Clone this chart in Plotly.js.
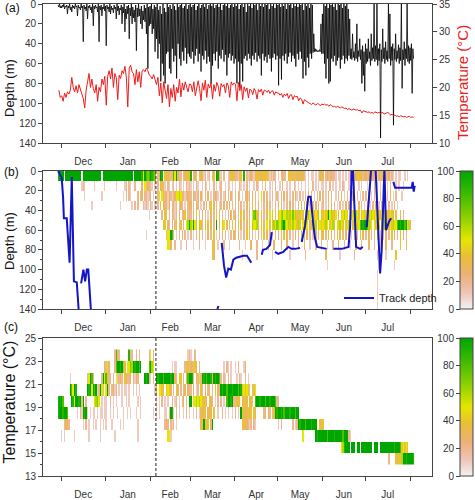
<!DOCTYPE html>
<html><head><meta charset="utf-8">
<script src="https://cdn.plot.ly/plotly-3.0.1.min.js"></script>
<style>html,body{margin:0;padding:0;background:#fff;}#chart{width:475px;height:500px;}</style>
</head><body><div id="chart"></div>
<script>
// ---------- calendar segments (Nov 29, 2012 .. Aug 3, 2013) ----------
const segStartDates = ['2012-11-29','2012-12-01','2013-01-01','2013-02-01','2013-03-01','2013-04-01','2013-05-01','2013-06-01','2013-07-01','2013-08-01'];
const segDays = [2,31,31,28,31,30,31,30,31,3];
const monthNames = ['Dec','Jan','Feb','Mar','Apr','May','Jun','Jul'];
const monthStarts = ['2012-12-01','2013-01-01','2013-02-01','2013-03-01','2013-04-01','2013-05-01','2013-06-01','2013-07-01','2013-08-01'];
const tagDate = '2013-02-05 02:00';

// ---------- (a) dive depth, two samples per day (m) ----------
const depthNov = [1,3,0,4];
const depthDec = [2,4,1,3,0,5,2,3,1,10,2,4,0,6,3,8,1,4,2,5,0,3,2,12,1,4,3,6,0,4,2,38,1,5,3,7,0,15,2,4,1,6,3,9,0,22,2,5,1,4,3,8,0,38,2,6,1,12,3,5,0,7];
const depthJan = [2,42,1,5,3,8,0,10,2,6,4,9,1,5,3,15,0,7,2,11,4,6,1,20,3,9,0,28,5,15,2,10,1,35,4,12,0,20,3,14,6,18,1,47,4,13,0,12,5,20,2,25,7,16,1,18,4,30,0,65,3,22];
const depthFeb = [2,20,0,30,5,25,1,48,3,35,0,55,6,40,2,78,10,60,0,72,4,80,8,50,0,48,3,65,1,70,5,45,0,58,2,52,6,75,0,40,3,55,1,62,0,48,4,57,2,44,0,60,5,50,1,53];
const depthMar = [0,55,3,48,1,60,0,52,6,45,2,58,0,50,4,68,1,52,0,56,3,47,0,60,5,53,1,58,0,80,2,62,0,50,4,57,1,48,0,65,3,52,0,55,6,46,1,58,0,51,2,72,0,54,4,50,1,57,0,52,3,60];
const depthApr = [0,55,2,80,0,58,5,84,1,60,0,78,3,55,0,52,8,57,0,50,2,55,0,62,4,52,0,56,1,49,0,58,6,52,0,55,2,72,0,50,3,57,0,53,1,59,0,51,5,55,0,68,2,54,0,50,4,56,0,52];
const depthMay = [1,82,0,55,3,76,0,52,2,57,0,50,5,60,0,53,1,49,0,58,4,52,0,55,2,63,0,50,3,56,0,48,1,55,0,75,6,58,0,72,2,54,0,64,4,50,0,55,1,49,30,48,45,48,46,48,47,48,46,48,20,50];
const depthJun = [10,50,0,60,2,75,0,55,4,80,0,78,1,55,0,58,3,52,0,62,6,57,0,54,1,65,0,56,4,52,0,60,2,55,0,57,5,52,15,55,45,56,30,54,48,57,40,55,20,58,47,53,35,56,46,80,42,72,48,88];
const depthJul = [40,60,45,58,35,55,48,62,30,57,44,55,0,58,42,56,0,62,45,57,40,135,46,58,25,55,44,60,38,56,47,58,0,55,10,62,43,57,40,122,45,56,30,58,47,55,41,60,44,57,0,85,46,56,38,62,45,55,0,58,42,60];
const depthAug = [44,57,40,90,45,55];

// ---------- (a) water temperature, daily (deg C) ----------
const tempNov = [19.5,18.2];
const tempDec = [18.5,17.5,19,18.2,19.2,18.8,19.5,21.8,20,19.2,20.3,19,20.5,19.5,19,18,16.3,19.5,21,22.5,20,21.5,19.8,19,20.5,17.5,20,19.2,21.5,20.5,22];
const tempJan = [16.8,22,23,21.5,23.5,20,22.5,21.8,17.8,22.2,21.6,23,22.5,23.8,21.9,16.5,23.5,24,22.8,22.5,20.5,23.2,21,22.8,20,23,23.2,22.8,23.5,23,22.2];
const tempFeb = [22,21.5,22.3,21.2,20.5,21.8,18.5,20.8,17.2,21,19.5,18,20.5,16.5,19.8,18.2,20.5,17.5,20,19,21.5,18.3,20.8,19.5,21,20,19.2,20.6];
const tempMar = [20.5,19.2,21,18.5,20.3,21.2,19.8,17.6,20.8,19.5,21.3,18.2,20.6,19.9,20.8,17.9,20.5,19.3,20.9,20.2,18.4,20.7,20.1,20.5,19,20.8,20.3,18.2,21,20.4,20.8];
const tempApr = [20.6,17.6,20.9,19.4,20.5,17.8,20.1,19.3,19.9,18.1,19.7,19.5,18.7,19.8,19.3,17.9,19.6,19.2,19.7,18.6,19.5,19.4,19.1,19.5,18.9,19.3,19.4,18.6,19.2,19.0];
const tempMay = [19.0,18.6,18.9,18.2,18.8,18.5,18.9,18.0,18.6,18.7,17.8,18.5,18.3,18.4,17.6,18.1,17.9,17.0,17.8,17.6,17.3,17.2,17.1,16.9,17.2,17.0,16.8,17.1,17.0,16.7,17.0];
const tempJun = [16.9,17.0,16.8,16.9,16.6,16.9,16.7,16.5,16.6,16.4,16.6,16.5,16.3,16.5,16.4,16.2,16.3,16.0,16.2,16.1,15.9,16.1,16.0,15.9,16.0,15.8,15.9,15.4,15.8,15.7];
const tempJul = [15.6,15.5,15.6,15.4,15.5,15.3,15.6,15.5,15.4,15.5,15.3,15.5,15.4,15.2,15.4,15.5,15.3,15.0,15.2,14.9,15.0,14.8,14.9,14.7,14.9,14.8,14.7,14.8,14.6,14.7,14.8];
const tempAug = [14.6,14.7,14.6];

// ---------- (b) % time at depth, daily; '.' = none, 1..9 = 10..90 %, A = 100 % ----------
const depthBins = [5,15,25,35,45,55,65,75,85,95,105,115,125,135];
const depthRows = [
 ['AA','AA.AAAAAAAAAAA.AAAAAAAAAAAAA.AA','AAAAAAAAAAAAAAAAAAA.AAAAA95A878','A987.23A9.44342285A322.23443','9.232.43412.12.24.A931.2..12434','22134.9.212321344334434212122.','1.2322.3443243434321.1.11.1.134','3.23223221.11.1.1.122323444323','32324323132423223121.1.11..1.1.','...'],
 ['..','..............121......1......1','.......1.....12.21..2....3.5232','21.1.2.3421.21.12.1.21.1.212','1.1.21..1.21.1..2.1.12..1.21.1.','1..21.1.2.1..1.21..1.2..1.1.2.','.1.2..1.1..21.1.1..1.1..2.1.1.1','1.1..2.1.1..1.21..1.1.2..1.1..','.1.1..2.1.1..1.1.2...1.1..1....','...'],
 ['','................1...........1..','............1.2.21....2.23.2212','2.1..25.54231321235565321232','2.3212.31.2.3.1.2321.2.13.2.31.','2.32.1.2312.3.2.1.5.3.2.1.2.12','1.2.3.2.1.2.31.2.1.2.3.2.1.2.3','2.1.3.2..1.2.3.1.2.1.3..2.1.2.','2.3.1.2.3.2.1..2.3.1.2...1.....',''],
 ['','......1..............1.........','..........1.......1.2.2...2121.','21.1.2.4.33213.2312.232.1.23','3.2.32.1.2.3.24.3.2.12.3.2.3.2.','2.3.2.1.3.2.4.2.3.1.2.3.2.1.2.','3.2.1.2.3.2.1.2.3.4.2.1.2.3.2.1','2.1.2.3.2.1.2.1.3.2.1.2..3.2.1','.2.1.2.3.1.2.1..2.1.2.1........',''],
 ['','','..............................1','........2.43.2.3212.3.234.22','2.3.4.2.3.2.1.3.2.4.3.2.1.2.3.2','3.2.4.3.2.3.57843.4.2.3.5.4.3.','456755646575644354.5465.34546.4','4546A56435.3.45654.3454654.454','45456545.43565434543.4..3.2....',''],
 ['','','','.........44.32.3.24.23.3.56A','65A53.642.3.4.3.2.A.3.45.3.2.4.','3.4.3.2.3.4.65563.4.3.5.4.3657','6578A65645655464.5645.34546.454','5465.4564.54654.4565.465458A9A','A8645.5465.456454546558A9AA8A54','3..'],
 ['','','............................1..','...........255A82.1.2.3.2.1.2.','2.1.2.3.2.1.3.2.4.1.2.3.2.1.2.3','2.3.1.2.4.3.2.1.3.2.4.3.2.1.2.','3.2.4.3.2.1.3.2.4.2.3.2.1.3.2.4','3.2.4.3.2.3.4.2.3.2.1.3.2.4.3.','2.3.2.4.3.2.1.3.2.4.3.2.4.3.2..',''],
 ['','','','............553..2...1...2...','..1...2...1....34..1...2...1...','...2...1...3...2...1...2...3...','..2...3...1...2...3...1...2...2','...1...2...3...2...1...3...2..','..3...2...1...3...2.....4...3..',''],
 ['','','','','...............43..............','.....1.........2..........1....','........1..........2...........','..3.........1.........2.......','........2.....1......4.........',''],
 ['','','','','','','','...1..........................','.........1..........1..........',''],
 ['','','','','','','','','........1......................',''],
 ['','','','','','','','','........1......................',''],
 ['','','','','','','','','........1......................',''],
 ['','','','','','','','','........1......................','']
];

// ---------- (c) % time at temperature, daily ----------
const tempBins = [14.5,15.5,16.5,17.5,18.5,19.5,20.5,21.5,22.5,23.5];
const tempRows = [
 ['','','','','','','','','................2....43436AA9AA','AA9'],
 ['','','','','','','','.............569AAA.AAA.AA.AAA','AAAAA.AAA.AAAAAAAAAA9AAA845454.',''],
 ['','1.1......1.........1.......1...','......1...............1........','............551','','','.................5........A9AAA','AAA8AAAA9AAAAA8AAA21.','',''],
 ['','..2332.........1.2.1..1.1..1.1.','1...1.....1.1.........1........','..........232.212.1','.......34A434.3A','.....4343212.21','1.2.......2.12A9AAA8AAA9AAA..43','4','',''],
 ['AA','A9AA8......1.21A9A1.1.11.1.11.1','1..1.1..1...1..1.1...1..1......','..1.1.1...11.2A91.2.1..1.2.1','..1.2.13434.343.4..1..2.1.1..1.','2.1.A4343434.43.....23.32.24A9','AA9A8AAA9AAA8AA','','',''],
 ['A9','A8.....A95AA9A2A.2.....5675.1.1','1..2.1.1...1..1.1.....1.1......','....1.1.2.1.1..2.12.1.23.2.A','A.5565654343.432.1.2.2.1.8AA9A2','2434.3443.342.8AA9AAA8AA9AAA82','2.','','',''],
 ['','......A85A9.......A9A5A8A12A52.','5A2.2312.1.1.11.1..1.1.1.......','...14.5543.4543.2.43.2.23.32','2.3.12.42.3.23.2.4.32A9AA8AAA9A','AA8A9454542.245','','','',''],
 ['','......1...........25A82.....2A5','8422.2.15232.43223.2132....A9A2','1.2.A9AAA8AAAA9AA32.44.2.38A','A92.3252A9A8AA93A9AA82.21.2.1..','.1.21..2.1','','','',''],
 ['','..............................3','253...28AA9A63.5576A9AA8A.....8','A65............1.11.....2342','34243.2................1.21.1..','1.2...13','','','',''],
 ['','','......2832......922..2.2......2','5.2.......................12','1..2','','','','','']
];

// ---------- (b) track depth (day index from Nov 29, m); null = gap ----------
const trackDay = [0,2.5,3.5,4,6,8,9.5,11,13,14.5,null,16,17.6,18.8,20,21,23,null,110.5,111.6,null,
 113.9,115.5,117,118.5,120.3,122,124,127,129,131.5,133,134.5,null,141.8,142.6,145,147.5,148.8,null,
 151,153.3,156.8,160.3,162.5,165,168.5,null,169.6,172,174.2,175.8,177.7,178.8,180.4,183.5,187,null,
 191.7,197.5,199.9,202.2,203.3,204.4,205.2,206,207.5,210.3,212.1,null,
 214.9,216.8,218,221,222.3,224.2,225.3,226.5,227.2,228.3,230.5,231.9,null,
 233.4,234.6,240.4,246.2,246.9,247.6,248.3];
const trackDepth = [0,7,28,48,48,93,6,112,113,145,null,114,100,112,100,100,145,null,142,137,null,
 73,96,108,99,100,90,88,87,86,86,90,93,null,85,80,79,75,62,null,
 82,84,82,77,79,79,78,null,72,55,26,26,55,68,77,78,79,null,
 79,79,78,77,57,-3,-3,29,77,79,77,null,
 57,19,-3,-3,46,104,80,19,-3,60,51,48,null,
 11,17,17,17,11,21,15];

// ---------- helpers ----------
const W = 475, H = 500, DAY = 864e5;
const ms = s => Date.parse(s.replace(' ','T') + (s.length > 10 ? ':00Z' : 'T00:00:00Z'));
const T0 = ms(segStartDates[0]);
const segStart = segStartDates.map(ms);

function sampled(arrs, step, offset) {
  const xs = [], ys = [];
  arrs.forEach((a, k) => a.forEach((v, i) => { xs.push(segStart[k] + i * step + offset); ys.push(v); }));
  return {xs, ys};
}
function decodeRow(segs) {
  const out = [];
  segDays.forEach((n, k) => {
    const s = segs[k] || '';
    for (let i = 0; i < n; i++) {
      const c = s[i] || '.';
      out.push(c === '.' ? null : (c === 'A' ? 100 : parseInt(c, 10) * 10));
    }
  });
  return out;
}
const nDays = segDays.reduce((a, b) => a + b, 0);
const cellX = []; for (let d = 0; d < nDays; d++) cellX.push(T0 + d * DAY + DAY / 2);

const black = sampled([depthNov,depthDec,depthJan,depthFeb,depthMar,depthApr,depthMay,depthJun,depthJul,depthAug], DAY / 2, 0);
const red = sampled([tempNov,tempDec,tempJan,tempFeb,tempMar,tempApr,tempMay,tempJun,tempJul,tempAug], DAY, DAY / 2);
const trackX = trackDay.map(d => d === null ? null : T0 + d * DAY);

const scale = [[0,'#F2F2F2'],[0.125,'#EFC2B3'],[0.25,'#ECB176'],[0.375,'#E9BD3A'],[0.5,'#E6E600'],[0.625,'#A0D600'],[0.75,'#63C600'],[0.875,'#2DB600'],[1,'#00A600']];

const xr = [T0 - 10.53 * DAY, T0 + 260.32 * DAY];
const mStarts = monthStarts.map(ms);
const mMid = monthNames.map((_, i) => (mStarts[i] + mStarts[i + 1]) / 2);

const FONT = 'Liberation Sans, Arial, sans-serif';
const tickfont = {family: FONT, size: 10, color: '#333'};
const LC = '#444';
const xDom = [43 / W, 432 / W];
const dom = (top, bot) => [(H - bot) / H, (H - top) / H];
const domA = dom(4, 143), domB = dom(171, 309), domC = dom(338, 476);

function xAxis(anchor) {
  return {type: 'date', domain: xDom, range: xr, anchor, showline: true, mirror: true, linecolor: LC, linewidth: 1,
    showgrid: false, zeroline: false, tickmode: 'array', tickvals: mMid, ticktext: monthNames, ticks: '',
    ticklabelstandoff: 9, tickfont,
    minor: {tickmode: 'array', tickvals: mStarts, ticks: 'outside', ticklen: 4, tickcolor: LC, tickwidth: 1, showgrid: false}};
}
function yAxis(domain, range, tick0, dtick, minorD, anchor) {
  const a = {domain, range, anchor, showline: true, mirror: true, linecolor: LC, linewidth: 1, showgrid: false, zeroline: false,
    tickmode: 'linear', tick0, dtick, ticks: 'outside', ticklen: 4, tickcolor: LC, tickfont, ticklabeloverflow: 'allow'};
  if (minorD) a.minor = {tick0, dtick: minorD, ticks: 'outside', ticklen: 2, tickcolor: LC, showgrid: false};
  return a;
}
function cbAxis(over) {
  return {overlaying: over, anchor: 'free', position: 460 / W, side: 'left', range: [0, 100], tickmode: 'linear', tick0: 0, dtick: 20,
    ticks: 'outside', ticklen: 4, tickcolor: LC, showline: false, showgrid: false, zeroline: false, tickfont, ticklabeloverflow: 'allow'};
}
function cb(domain) {
  return {x: 460 / W, xanchor: 'left', xpad: 0, y: domain[0], yanchor: 'bottom', ypad: 0, len: domain[1] - domain[0], lenmode: 'fraction',
    thickness: 13, outlinewidth: 1, outlinecolor: LC, showticklabels: false, ticks: ''};
}

const traces = [
  {type: 'scatter', mode: 'lines', x: black.xs, y: black.ys, xaxis: 'x', yaxis: 'y', line: {color: '#000', width: 0.8}, showlegend: false, hoverinfo: 'skip'},
  {type: 'scatter', mode: 'lines', x: red.xs, y: red.ys, xaxis: 'x', yaxis: 'y4', line: {color: '#ee1c1c', width: 1}, showlegend: false, hoverinfo: 'skip'},
  {type: 'heatmap', x: cellX, y: depthBins, z: depthRows.map(decodeRow), xaxis: 'x2', yaxis: 'y2', zmin: 0, zmax: 100,
    colorscale: scale, colorbar: cb(domB), hoverinfo: 'skip', showlegend: false},
  {type: 'scatter', mode: 'lines', x: trackX, y: trackDepth, xaxis: 'x2', yaxis: 'y2', name: 'Track depth',
    line: {color: '#1414c8', width: 2}, connectgaps: false, hoverinfo: 'skip'},
  {type: 'heatmap', x: cellX, y: tempBins, z: tempRows.map(decodeRow), xaxis: 'x3', yaxis: 'y3', zmin: 0, zmax: 100,
    colorscale: scale, colorbar: cb(domC), hoverinfo: 'skip', showlegend: false},
  {type: 'scatter', x: [], y: [], xaxis: 'x2', yaxis: 'y5', showlegend: false, hoverinfo: 'skip'},
  {type: 'scatter', x: [], y: [], xaxis: 'x3', yaxis: 'y6', showlegend: false, hoverinfo: 'skip'}
];

const ann = (text, px, py, size, extra) => Object.assign({text, x: px / W, y: (H - py) / H, xref: 'paper', yref: 'paper',
  showarrow: false, xanchor: 'center', yanchor: 'middle', font: {family: FONT, size, color: '#111'}}, extra || {});

const layout = {
  width: W, height: H, margin: {l: 0, r: 0, t: 0, b: 0}, paper_bgcolor: '#fff', plot_bgcolor: '#fff',
  font: {family: FONT, size: 10, color: '#333'},
  showlegend: true,
  legend: {x: 339 / W, y: (H - 298) / H, xanchor: 'left', yanchor: 'middle', bgcolor: 'rgba(0,0,0,0)', borderwidth: 0,
    font: {family: FONT, size: 11, color: '#222'}},
  xaxis: xAxis('y'), xaxis2: xAxis('y2'), xaxis3: xAxis('y3'),
  yaxis: yAxis(domA, [140, 0], 0, 20, null, 'x'),
  yaxis2: yAxis(domB, [140, 0], 0, 20, 10, 'x2'),
  yaxis3: yAxis(domC, [13, 25], 13, 2, 1, 'x3'),
  yaxis4: {overlaying: 'y', side: 'right', anchor: 'x', range: [10, 35], tickmode: 'linear', tick0: 10, dtick: 5, ticks: 'outside',
    ticklen: 4, tickcolor: LC, showline: true, linecolor: LC, showgrid: false, zeroline: false, tickfont, ticklabeloverflow: 'allow'},
  yaxis5: cbAxis('y2'), yaxis6: cbAxis('y3'),
  shapes: [
    {type: 'line', xref: 'x2', yref: 'y2 domain', x0: tagDate, x1: tagDate, y0: 0, y1: 1, line: {color: '#222', width: 1, dash: '3px,2px'}},
    {type: 'line', xref: 'x3', yref: 'y3 domain', x0: tagDate, x1: tagDate, y0: 0, y1: 1, line: {color: '#222', width: 1, dash: '3px,2px'}}
  ],
  annotations: [
    ann('(a)', 3, 8, 12, {xanchor: 'left'}),
    ann('(b)', 2, 172, 12, {xanchor: 'left'}),
    ann('(c)', 2, 327, 12, {xanchor: 'left'}),
    ann('Depth (m)', 9, 88, 13, {textangle: -90}),
    ann('Depth (m)', 9, 241, 13, {textangle: -90}),
    ann('Temperature (°C)', 8.5, 402, 16, {textangle: -90}),
    ann('Temperature (°C)', 462, 83, 15, {textangle: -90, font: {family: FONT, size: 15, color: '#ee1c1c'}})
  ]
};

Plotly.newPlot('chart', traces, layout, {staticPlot: true, displayModeBar: false});
</script></body></html>
